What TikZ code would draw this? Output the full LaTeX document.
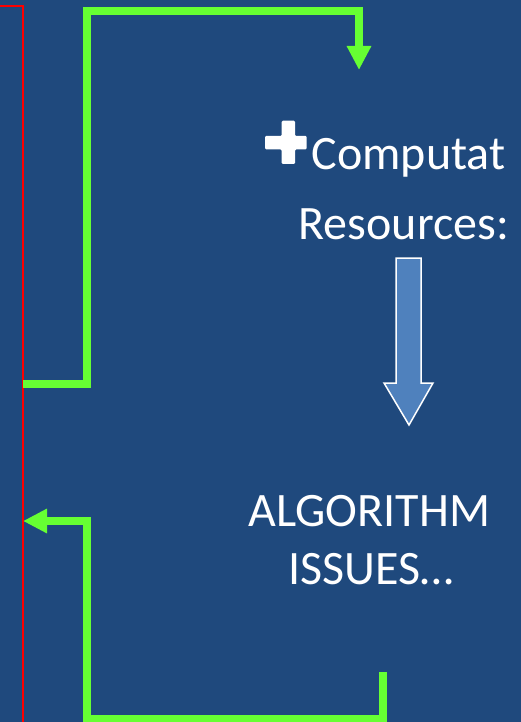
\documentclass[tikz,border=0pt]{standalone}
\usepackage{fontspec}
\setmainfont{Carlito}
\usetikzlibrary{arrows.meta}
\definecolor{bgblue}{HTML}{1F497D}
\definecolor{lgreen}{HTML}{66FF33}
\definecolor{arrowblue}{HTML}{4F81BD}
\tikzset{
  greenconn/.style={draw=lgreen, line width=8pt, line join=miter, line cap=butt,
    -{Triangle[length=24pt,width=23pt]}},
  redline/.style={draw=red, line width=2pt},
  label/.style={text=white, inner sep=0pt, anchor=base west,
    font=\fontsize{48pt}{57pt}\selectfont},
  blockarrow/.style={fill=arrowblue, draw=white, line width=1.5pt, line join=miter}
}
\begin{document}
\begin{tikzpicture}[x=1pt, y=-1pt]
\useasboundingbox (0,0) rectangle (521,722);
\fill[bgblue] (0,0) rectangle (521,722);

% red frame edge
\coordinate (rA) at (0,6.5);
\coordinate (rB) at (23,6.5);
\coordinate (rC) at (23,722);
\draw[redline] (rA) -- (rB) -- (rC);

% upper green connector
\coordinate (gA0) at (23,383.5);
\coordinate (gA1) at (87,383.5);
\coordinate (gA2) at (87,11);
\coordinate (gA3) at (359,11);
\coordinate (gA4) at (359,70);
\draw[greenconn] (gA0) -- (gA1) -- (gA2) -- (gA3) -- (gA4);

% lower green connector
\coordinate (gB0) at (383,672);
\coordinate (gB1) at (383,719);
\coordinate (gB2) at (87,719);
\coordinate (gB3) at (87,521);
\coordinate (gB4) at (23,521);
\draw[greenconn] (gB0) -- (gB1) -- (gB2) -- (gB3) -- (gB4);

% plus bullet
\fill[white, rounded corners=1.2pt]
  (281.7,120.7) -- (295,120.7) -- (295,136) -- (306.7,136) -- (306.7,149.3)
  -- (295,149.3) -- (295,164) -- (281.7,164) -- (281.7,149.3) -- (265,149.3)
  -- (265,136) -- (281.7,136) -- cycle;

% texts
\node[label] (comp) at (311.5,170) {Computat};
\node[label] (res) at (298.5,239) {Resources:};
\node[label] (alg) at (248.5,526.5) {ALGORITHM};
\node[label] (iss) at (288.5,584) {ISSUES…};

% block arrow
\draw[blockarrow] (396,258) -- (421,258) -- (421,383) -- (433,383) -- (409,425)
  -- (384,383) -- (396,383) -- cycle;
\end{tikzpicture}
\end{document}
